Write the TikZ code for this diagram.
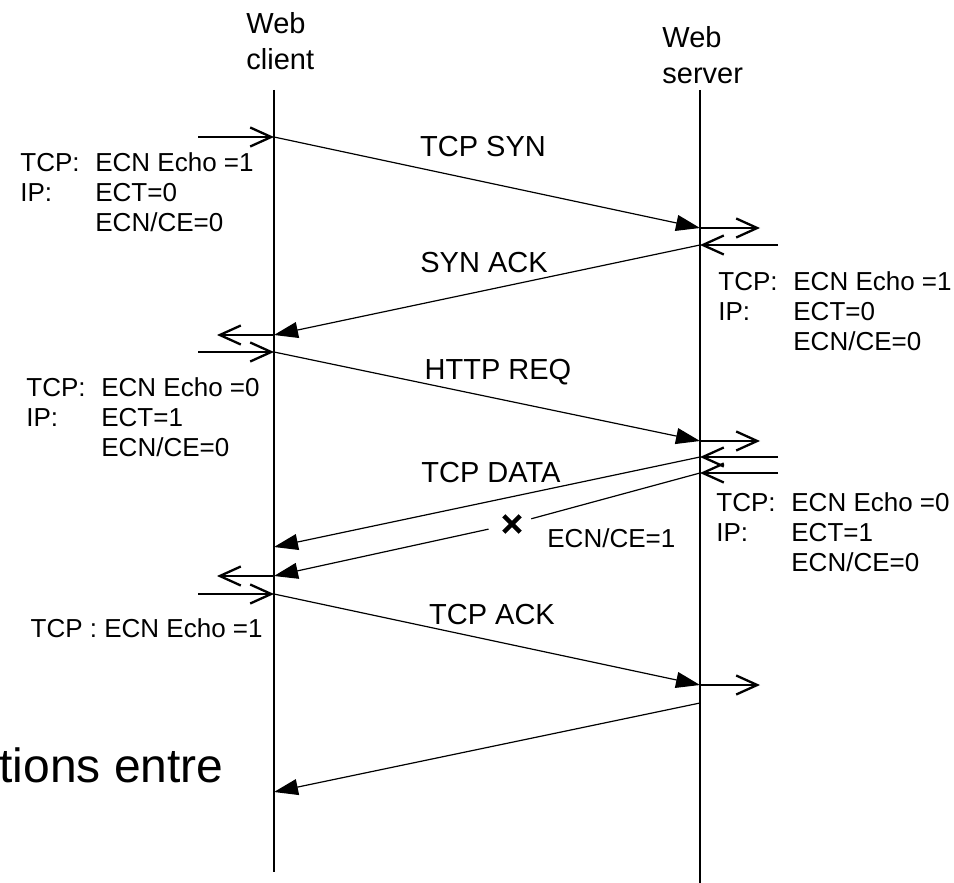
\documentclass[tikz,border=0pt]{standalone}
\usepackage{fontspec}
\setmainfont{Liberation Sans}
\usetikzlibrary{arrows.meta,shapes.misc}

% TCP/IP header fields carried by one segment
\newcommand{\ecnfields}[3]{%
  \begin{tabular}{@{}p{37.5pt}@{}l@{}}
    TCP: & ECN Echo =#1\\
    IP:  & ECT=#2\\
         & ECN/CE=#3
  \end{tabular}}

\begin{document}
\begin{tikzpicture}[x=0.5pt,y=-0.5pt,
  lifeline/.style={line width=1.3pt},
  msg/.style={line width=0.6pt,-{Triangle[length=12pt,width=8pt]}},
  hop/.style={line width=1.15pt,-{Straight Barb[length=10.5pt,width=9.5pt]}},
  host/.style={anchor=west,align=left,inner sep=0pt,font=\fontsize{14.5}{18}\selectfont},
  pkt/.style={inner sep=0pt,font=\fontsize{14.5}{17}\selectfont},
  fields/.style={anchor=west,inner sep=0pt,font=\fontsize{13}{15}\selectfont}]
\useasboundingbox (0,0) rectangle (954,883);
\clip (0,0) rectangle (954,883);

% hosts and lifelines
\node[host] (cli) at (246,41) {Web\\client};
\node[host] (srv) at (662,55) {Web\\server};
\coordinate (cliTop) at (274,90);  \coordinate (cliEnd) at (274,872);
\coordinate (srvTop) at (700,90);  \coordinate (srvEnd) at (700,890);
\draw[lifeline] (cliTop) -- (cliEnd);
\draw[lifeline] (srvTop) -- (srvEnd);

% where each segment leaves / reaches a host
\foreach \name/\y in {syn/137, synack/335, req/352, data/547, cedata/576, ack/594, last/792}
  \coordinate (c-\name) at (274,\y);
\foreach \name/\y in {syn/228, synack/245, req/441, data/457, cedata/473, ack/685, last/703}
  \coordinate (s-\name) at (700,\y);

% stack hand-off on each side
\coordinate (cliIn) at (198,0);  \coordinate (cliOut) at (217,0);
\coordinate (srvOut) at (760,0); \coordinate (srvIn) at (778,0);
\foreach \m in {syn,req,ack} \draw[hop] (c-\m -| cliIn) -- (c-\m);
\foreach \m in {synack,cedata} \draw[hop] (c-\m) -- (c-\m -| cliOut);
\foreach \m in {syn,req,ack} \draw[hop] (s-\m) -- (s-\m -| srvOut);
\foreach \m in {synack,data,cedata} \draw[hop] (s-\m -| srvIn) -- (s-\m);

% segments
\node[cross out,draw,line width=2.2pt,minimum size=6pt,inner sep=0pt] (drop) at (512,524) {};
\draw[msg] (c-syn) -- (s-syn);
\draw[msg] (s-synack) -- (c-synack);
\draw[msg] (c-req) -- (s-req);
\draw[msg] (s-data) -- (c-data);
\draw[line width=0.6pt,shorten >=10pt] (s-cedata) -- (drop.center);
\draw[msg,shorten <=12pt] (drop.center) -- (c-cedata);
\draw[msg] (c-ack) -- (s-ack);
\draw[msg] (s-last) -- (c-last);

\node[pkt] (lSyn) at (483,147) {TCP SYN};
\node[pkt] (lSynAck) at (484,263) {SYN ACK};
\node[pkt] (lReq) at (498,372) {HTTP REQ};
\node[pkt] (lData) at (491,473) {TCP DATA};
\node[pkt] (lAck) at (492,615) {TCP ACK};
\node[fields] (lCe) at (547,538) {ECN/CE=1};

% header values
\node[fields] (fSyn) at (20,196) {\ecnfields{1}{0}{0}};
\node[fields] (fSynAck) at (718,315) {\ecnfields{1}{0}{0}};
\node[fields] (fReq) at (26,420) {\ecnfields{0}{1}{0}};
\node[fields] (fData) at (716,535) {\ecnfields{0}{1}{0}};
\node[fields,anchor=east] (fAck) at (263,628) {TCP : ECN Echo =1};

\node[anchor=base west,inner sep=0pt,font=\fontsize{24}{28}\selectfont] (title) at (-1,782) {tions entre};
\end{tikzpicture}
\end{document}
